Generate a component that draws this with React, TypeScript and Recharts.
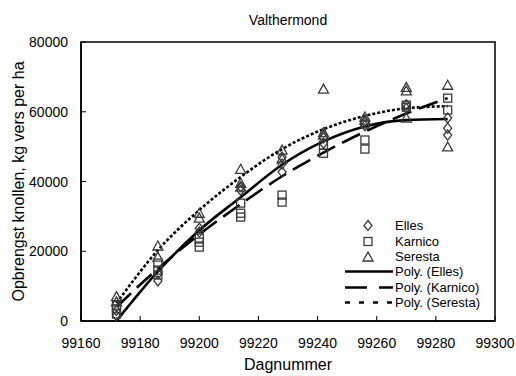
import React from "react";
import {
  ComposedChart,
  Scatter,
  Line,
  XAxis,
  YAxis,
  Label,
  ReferenceArea,
} from "recharts";

const days = [99172, 99186, 99200, 99214, 99228, 99242, 99256, 99270, 99284];
const xTicks = [99160, 99180, 99200, 99220, 99240, 99260, 99280, 99300];
const yTicks = [0, 20000, 40000, 60000, 80000];

// measured plots, [day, yield]
const ellesPts: [number, number][] = [
  [99172, 1500], [99172, 3000],
  [99186, 11500], [99186, 13500],
  [99200, 25500], [99200, 26600],
  [99214, 37500], [99214, 38500],
  [99228, 42700], [99228, 45000], [99228, 47000],
  [99242, 51000], [99242, 52500],
  [99256, 56000], [99256, 57000],
  [99270, 61000], [99270, 62000],
  [99284, 58200], [99284, 55300], [99284, 53300],
];
const karnicoPts: [number, number][] = [
  [99172, 2000], [99172, 3500], [99172, 4500],
  [99186, 13200], [99186, 14600], [99186, 16600],
  [99200, 21200], [99200, 22600], [99200, 23800],
  [99214, 29800], [99214, 30900], [99214, 33800],
  [99228, 34100], [99228, 36100],
  [99242, 48100], [99242, 50400],
  [99256, 49300], [99256, 51900], [99256, 56500],
  [99270, 61300], [99270, 61900],
  [99284, 60500], [99284, 63900],
];
const serestaPts: [number, number][] = [
  [99172, 5500], [99172, 7000],
  [99186, 18300], [99186, 21500],
  [99200, 29500], [99200, 30900],
  [99214, 38400], [99214, 39500], [99214, 43500],
  [99228, 46500], [99228, 49000],
  [99242, 53300], [99242, 54000], [99242, 66500],
  [99256, 57600], [99256, 58500],
  [99270, 58200], [99270, 66000], [99270, 67000],
  [99284, 49900], [99284, 67600],
];

// trendline values read at each harvest day
const ellesTrend = [0, 14200, 26000, 35500, 44800, 51500, 55800, 57600, 57900];
const karnicoTrend = [4000, 15000, 24800, 33500, 41500, 48300, 54300, 59500, 63900];
const serestaTrend = [5100, 20300, 31800, 41300, 49300, 55000, 58800, 61000, 61600];

const toPts = (arr: [number, number][]) => arr.map(([day, y]) => ({ day, y }));
const toTrend = (arr: number[]) => arr.map((y, i) => ({ day: days[i], y }));

const FONT = "'Liberation Sans', Arial, sans-serif";
const MARK = "#3a3a3a";

const Diamond = ({ cx, cy }: any) => (
  <path d={`M${cx},${cy - 5}L${cx + 4},${cy}L${cx},${cy + 5}L${cx - 4},${cy}Z`} fill="none" stroke={MARK} strokeWidth={1.3} />
);
const Square = ({ cx, cy }: any) => (
  <rect x={cx - 4} y={cy - 4} width={8} height={8} fill="none" stroke={MARK} strokeWidth={1.3} />
);
const Triangle = ({ cx, cy }: any) => (
  <path d={`M${cx},${cy - 5}L${cx + 5},${cy + 4}L${cx - 5},${cy + 4}Z`} fill="none" stroke={MARK} strokeWidth={1.3} />
);

const XTick = ({ x, y, payload }: any) => (
  <g>
    <line x1={x} y1={y} x2={x} y2={y - 5} stroke="#000" />
    <text x={x} y={y + 27} textAnchor="middle" fontSize={14} fill="#000" fontFamily={FONT}>
      {payload.value}
    </text>
  </g>
);
const YTick = ({ x, y, payload }: any) => (
  <g>
    <line x1={x} y1={y} x2={x + 5} y2={y} stroke="#000" />
    <text x={x - 13} y={y + 5} textAnchor="end" fontSize={14} fill="#000" fontFamily={FONT}>
      {payload.value}
    </text>
  </g>
);

const legendRows = [
  { label: "Elles", kind: "diamond" },
  { label: "Karnico", kind: "square" },
  { label: "Seresta", kind: "triangle" },
  { label: "Poly. (Elles)", kind: "solid" },
  { label: "Poly. (Karnico)", kind: "long" },
  { label: "Poly. (Seresta)", kind: "short" },
];

function LegendIcon({ kind }: { kind: string }) {
  const cx = 24;
  const cy = 7.5;
  if (kind === "diamond") return <Diamond cx={cx} cy={cy} />;
  if (kind === "square") return <Square cx={cx} cy={cy} />;
  if (kind === "triangle") return <Triangle cx={cx} cy={cy + 0.5} />;
  const dash = kind === "long" ? "22 12" : kind === "short" ? "5 9" : undefined;
  return <line x1={1} y1={cy} x2={49} y2={cy} stroke="#000" strokeWidth={2.5} strokeDasharray={dash} />;
}

function LegendBox() {
  return (
    <div
      style={{
        position: "absolute",
        left: 344,
        top: 218,
        fontFamily: FONT,
        fontSize: 13,
        color: "#000",
      }}
    >
      {legendRows.map((r) => (
        <div key={r.label} style={{ display: "flex", alignItems: "center", height: 15.4 }}>
          <svg width={50} height={15} style={{ display: "block", flex: "none" }}>
            <LegendIcon kind={r.kind} />
          </svg>
          <span style={{ marginLeft: 1, lineHeight: "15px", whiteSpace: "nowrap" }}>{r.label}</span>
        </div>
      ))}
    </div>
  );
}

export default function App() {
  return (
    <div style={{ position: "absolute", left: 0, top: 0, width: 516, height: 376, background: "#fff" }}>
      <div
        style={{
          position: "absolute",
          left: 81,
          width: 414,
          top: 12,
          textAlign: "center",
          fontFamily: FONT,
          fontSize: 14,
          lineHeight: "16px",
          color: "#000",
        }}
      >
        Valthermond
      </div>
      <ComposedChart width={516} height={376} margin={{ top: 42, right: 21, bottom: 0, left: 0 }}>
        <XAxis
          type="number"
          dataKey="day"
          domain={[99160, 99300]}
          ticks={xTicks}
          height={55}
          tickSize={0}
          tickMargin={0}
          tickLine={false}
          axisLine={{ stroke: "#000", strokeWidth: 1.5 }}
          tick={<XTick />}
          interval={0}
        >
          <Label value="Dagnummer" position="center" dy={16} fontSize={16} fill="#000" fontFamily={FONT} />
        </XAxis>
        <YAxis
          type="number"
          dataKey="y"
          domain={[0, 80000]}
          ticks={yTicks}
          width={81}
          tickSize={0}
          tickMargin={0}
          tickLine={false}
          axisLine={{ stroke: "#000", strokeWidth: 1.5 }}
          tick={<YTick />}
          interval={0}
        >
          <Label
            value="Opbrengst knollen, kg vers per ha"
            angle={-90}
            position="center"
            dx={-22}
            fontSize={16}
            fill="#000"
            fontFamily={FONT}
          />
        </YAxis>
        <ReferenceArea x1={99160} x2={99300} y1={0} y2={80000} fill="none" stroke="#000" strokeWidth={1.5} ifOverflow="visible" />
        <Scatter name="Elles" data={toPts(ellesPts)} dataKey="y" shape={<Diamond />} isAnimationActive={false} />
        <Scatter name="Karnico" data={toPts(karnicoPts)} dataKey="y" shape={<Square />} isAnimationActive={false} />
        <Scatter name="Seresta" data={toPts(serestaPts)} dataKey="y" shape={<Triangle />} isAnimationActive={false} />
        <Line
          data={toTrend(ellesTrend)}
          dataKey="y"
          type="monotone"
          stroke="#000"
          strokeWidth={2.6}
          dot={false}
          isAnimationActive={false}
        />
        <Line
          data={toTrend(karnicoTrend)}
          dataKey="y"
          type="monotone"
          stroke="#000"
          strokeWidth={2.6}
          strokeDasharray="20 8"
          dot={false}
          isAnimationActive={false}
        />
        <Line
          data={toTrend(serestaTrend)}
          dataKey="y"
          type="monotone"
          stroke="#000"
          strokeWidth={2.6}
          strokeDasharray="3 2"
          dot={false}
          isAnimationActive={false}
        />
      </ComposedChart>
      <LegendBox />
    </div>
  );
}
